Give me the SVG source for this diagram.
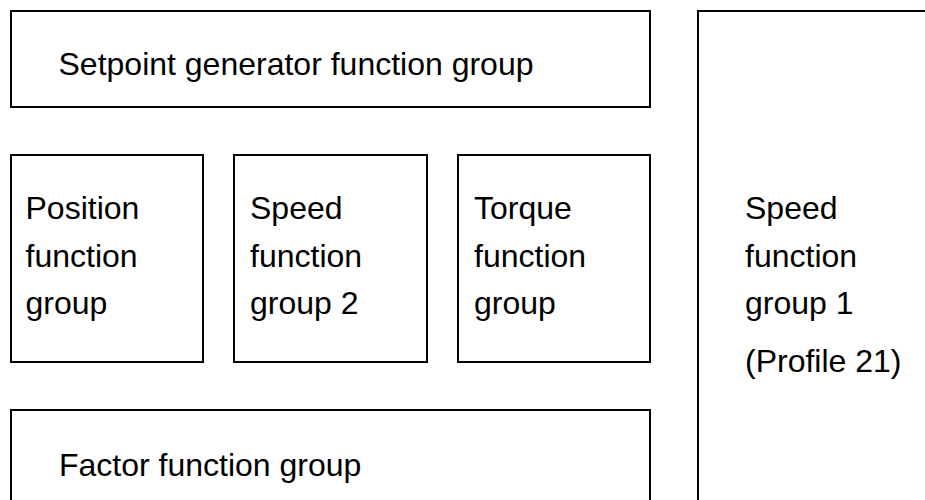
<svg xmlns="http://www.w3.org/2000/svg" width="925" height="500" viewBox="0 0 925 500">
<style>
.box{fill:#fff;stroke:#000;stroke-width:2}
.t{font-family:"Liberation Sans",Arial,sans-serif;font-size:32px;fill:#000}
</style>
<rect x="0" y="0" width="925" height="500" fill="#fff"/>
<g id="setpoint">
<rect class="box" x="11" y="11" width="639" height="96"/>
<text class="t" x="58.5" y="75">Setpoint generator function group</text>
</g>
<g id="position">
<rect class="box" x="11" y="155" width="192" height="207"/>
<text class="t" x="25.5" y="219">Position</text>
<text class="t" x="25.5" y="266.5">function</text>
<text class="t" x="25.5" y="314">group</text>
</g>
<g id="speed2">
<rect class="box" x="234" y="155" width="193" height="207"/>
<text class="t" x="250" y="219">Speed</text>
<text class="t" x="250" y="266.5">function</text>
<text class="t" x="250" y="314">group 2</text>
</g>
<g id="torque">
<rect class="box" x="458" y="155" width="192" height="207"/>
<text class="t" x="474" y="219">Torque</text>
<text class="t" x="474" y="266.5">function</text>
<text class="t" x="474" y="314">group</text>
</g>
<g id="factor">
<rect class="box" x="11" y="410" width="639" height="110"/>
<text class="t" x="59" y="476">Factor function group</text>
</g>
<g id="speed1">
<rect class="box" x="698" y="11" width="260" height="520"/>
<text class="t" x="745" y="219">Speed</text>
<text class="t" x="745" y="266.5">function</text>
<text class="t" x="745" y="314">group 1</text>
<text class="t" x="745" y="371.5">(Profile 21)</text>
</g>
<g id="connectors"></g>
</svg>
